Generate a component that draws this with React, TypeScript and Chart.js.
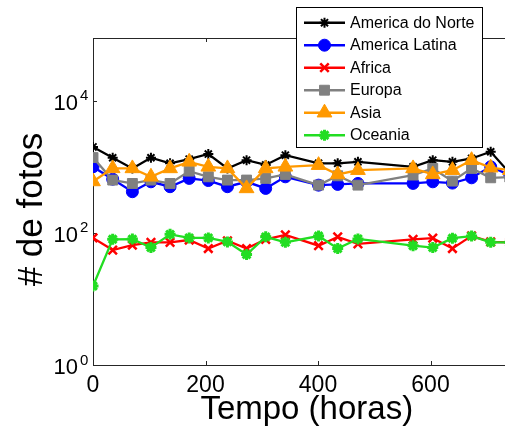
import React, { useEffect, useRef } from 'react';
import { Chart, registerables } from 'chart.js';

Chart.register(...registerables);

// ---- data ----
const hours = [0, 35, 70, 103, 137, 171, 205, 239, 273, 307, 342, 401, 435, 471, 569, 604, 639, 673, 707, 741];
const americaDoNorte = [2000, 1370, 946, 1370, 1130, 1307, 1560, 946, 1260, 1070, 1500, 1130, 1130, 1190, 1000, 1260, 1190, 1340, 1690, 800];
const americaLatina = [1000, 650, 420, 593, 500, 668, 620, 500, 593, 471, 706, 528, 542, 560, 561, 593, 567, 682, 1000, 750];
const africa = [84, 55, 65, 72, 72, 78, 58, 76, 58, 80, 93, 64, 87, 68, 80, 83, 58, 90, 73, 72];
const europa = [1380, 630, 560, 630, 560, 860, 706, 630, 630, 668, 767, 528, 731, 528, 750, 946, 608, 946, 682, 700];
const asia = [600, 946, 946, 706, 946, 1190, 1000, 946, 471, 946, 1000, 1060, 767, 890, 946, 767, 890, 1260, 970, 890];
const oceania = [15.7, 80, 80.5, 60, 95, 84, 84, 73, 47, 87, 72, 89.5, 58, 81, 64, 60, 83, 89.5, 72, 72];

const seriesNames = ['America do Norte', 'America Latina', 'Africa', 'Europa', 'Asia', 'Oceania'];
const seriesValues = [americaDoNorte, americaLatina, africa, europa, asia, oceania];

const xTickValues = [0, 200, 400, 600];
const yTickExponents = [0, 2, 4];
const xTitle = 'Tempo (horas)';
const yTitle = '# de fotos';

// ---- styles ----
const FONT = "'Liberation Sans', Arial, Helvetica, sans-serif";
const AXIS_COLOR = '#262626';
const styles = [
  { color: '#000000', point: 'star', radius: 5, pw: 2, lw: 2.2 },
  { color: '#0000ff', point: 'circle', radius: 6, pw: 1, lw: 2.3 },
  { color: '#ff0000', point: 'crossRot', radius: 6, pw: 2.5, lw: 2.3 },
  { color: '#808080', point: 'rect', radius: 7, pw: 1, lw: 2.3 },
  { color: '#ff9900', point: 'triangle', radius: 8.5, pw: 1, lw: 2.3 },
  { color: '#22dd22', point: 'star', radius: 5.5, pw: 3, lw: 2.3 },
];

function drawMarker(ctx: CanvasRenderingContext2D, style: string, x: number, y: number, r: number, color: string, lw: number) {
  ctx.save();
  ctx.strokeStyle = color;
  ctx.fillStyle = color;
  ctx.lineWidth = lw;
  ctx.beginPath();
  const d = r * Math.SQRT1_2;
  if (style === 'circle') {
    ctx.arc(x, y, r, 0, Math.PI * 2);
    ctx.fill();
    ctx.stroke();
  } else if (style === 'rect') {
    ctx.rect(x - d, y - d, 2 * d, 2 * d);
    ctx.fill();
    ctx.stroke();
  } else if (style === 'triangle') {
    ctx.moveTo(x, y - r);
    ctx.lineTo(x + 0.866 * r, y + 0.5 * r);
    ctx.lineTo(x - 0.866 * r, y + 0.5 * r);
    ctx.closePath();
    ctx.fill();
    ctx.stroke();
  } else if (style === 'crossRot') {
    ctx.moveTo(x - d, y - d); ctx.lineTo(x + d, y + d);
    ctx.moveTo(x - d, y + d); ctx.lineTo(x + d, y - d);
    ctx.stroke();
  } else if (style === 'star') {
    ctx.moveTo(x - r, y); ctx.lineTo(x + r, y);
    ctx.moveTo(x, y - r); ctx.lineTo(x, y + r);
    ctx.moveTo(x - d, y - d); ctx.lineTo(x + d, y + d);
    ctx.moveTo(x - d, y + d); ctx.lineTo(x + d, y - d);
    ctx.stroke();
  }
  ctx.restore();
}

const framePlugin = {
  id: 'matlabFrame',
  beforeDatasetsDraw(chart: any) {
    const { ctx, chartArea } = chart;
    const { left, right, top, bottom } = chartArea;
    const xs = chart.scales.x;
    const ys = chart.scales.y;
    ctx.save();
    ctx.strokeStyle = AXIS_COLOR;
    ctx.lineWidth = 1;
    ctx.beginPath();
    ctx.moveTo(left + 0.5, top + 0.5);
    ctx.lineTo(left + 0.5, bottom + 0.5);
    ctx.lineTo(right, bottom + 0.5);
    ctx.moveTo(left, top + 0.5);
    ctx.lineTo(right, top + 0.5);
    // x ticks (inward, bottom & top)
    xTickValues.forEach((v) => {
      const px = Math.round(xs.getPixelForValue(v)) + 0.5;
      ctx.moveTo(px, bottom);
      ctx.lineTo(px, bottom - 4);
      ctx.moveTo(px, top);
      ctx.lineTo(px, top + 4);
    });
    // y ticks (inward, left)
    yTickExponents.forEach((e) => {
      const py = Math.round(ys.getPixelForValue(Math.pow(10, e))) + 0.5;
      ctx.moveTo(left, py);
      ctx.lineTo(left + 4, py);
    });
    ctx.stroke();

    // y tick labels with superscripts
    ctx.fillStyle = '#000';
    yTickExponents.forEach((e) => {
      const py = ys.getPixelForValue(Math.pow(10, e));
      ctx.font = `22px ${FONT}`;
      ctx.textAlign = 'right';
      ctx.textBaseline = 'alphabetic';
      ctx.fillText('10', left - 15, py + 9);
      ctx.font = `15px ${FONT}`;
      ctx.textAlign = 'left';
      ctx.fillText(String(e), left - 13, py - 0.5);
    });

    // y axis title
    ctx.save();
    ctx.translate(41.5, 209.5);
    ctx.rotate(-Math.PI / 2);
    ctx.font = `35px ${FONT}`;
    ctx.textAlign = 'center';
    ctx.textBaseline = 'alphabetic';
    ctx.fillText(yTitle, 0, 0);
    ctx.restore();
    ctx.restore();
  },
  afterDraw(chart: any) {
    const { ctx } = chart;
    ctx.save();
    const bx = 296.5, by = 7.5, bw = 186, bh = 140;
    ctx.fillStyle = '#ffffff';
    ctx.fillRect(bx, by, bw, bh);
    ctx.strokeStyle = '#000000';
    ctx.lineWidth = 1;
    ctx.strokeRect(bx, by, bw, bh);
    seriesNames.forEach((name, i) => {
      const st = styles[i];
      const y = 22.7 + i * 22.5;
      ctx.strokeStyle = st.color;
      ctx.lineWidth = 2.5;
      ctx.beginPath();
      ctx.moveTo(304, y);
      ctx.lineTo(345, y);
      ctx.stroke();
      drawMarker(ctx, st.point, 324.5, y, st.radius, st.color, st.pw);
      ctx.fillStyle = '#000';
      ctx.font = `16px ${FONT}`;
      ctx.textAlign = 'left';
      ctx.textBaseline = 'middle';
      ctx.fillText(name, 350, y + 0.7);
    });
    ctx.restore();
  },
};

export default function App() {
  const canvasRef = useRef<HTMLCanvasElement | null>(null);

  useEffect(() => {
    if (!canvasRef.current) return;
    const datasets = seriesNames.map((name, i) => ({
      label: name,
      data: hours.map((h, j) => ({ x: h, y: seriesValues[i][j] })),
      borderColor: styles[i].color,
      backgroundColor: styles[i].color,
      borderWidth: styles[i].lw,
      pointStyle: styles[i].point as any,
      pointRadius: styles[i].radius,
      pointBorderWidth: styles[i].pw,
      pointBorderColor: styles[i].color,
      pointBackgroundColor: styles[i].color,
      tension: 0,
      fill: false,
      order: seriesNames.length - 1 - i,
    }));

    const chart = new Chart(canvasRef.current, {
      type: 'line',
      data: { datasets },
      plugins: [framePlugin],
      options: {
        animation: false,
        responsive: false,
        devicePixelRatio: 1,
        layout: { padding: { top: 38, right: 8, left: 0, bottom: 0 } },
        plugins: { legend: { display: false }, tooltip: { enabled: false } },
        scales: {
          x: {
            type: 'linear',
            min: 0,
            max: 760,
            afterFit: (s: any) => { s.height = 65; },
            afterBuildTicks: (s: any) => { s.ticks = xTickValues.map((v) => ({ value: v })); },
            grid: { display: false, drawTicks: false },
            border: { display: false },
            ticks: {
              font: { family: FONT, size: 23 },
              color: '#000',
              padding: 7,
              maxRotation: 0,
              autoSkip: false,
            },
            title: {
              display: true,
              text: xTitle,
              font: { family: FONT, size: 33 },
              color: '#000',
              padding: { top: 0, bottom: 0 },
            },
          },
          y: {
            type: 'logarithmic',
            min: 1,
            max: Math.pow(10, 4.95),
            afterFit: (s: any) => { s.width = 93; },
            grid: { display: false, drawTicks: false },
            border: { display: false },
            ticks: { display: false },
            title: { display: false },
          },
        },
      },
    });
    return () => chart.destroy();
  }, []);

  return (
    <div style={{ position: 'fixed', left: 0, top: 0, width: 505, height: 430, overflow: 'hidden', background: '#fff' }}>
      <canvas ref={canvasRef} width={530} height={430} style={{ display: 'block' }} />
    </div>
  );
}
